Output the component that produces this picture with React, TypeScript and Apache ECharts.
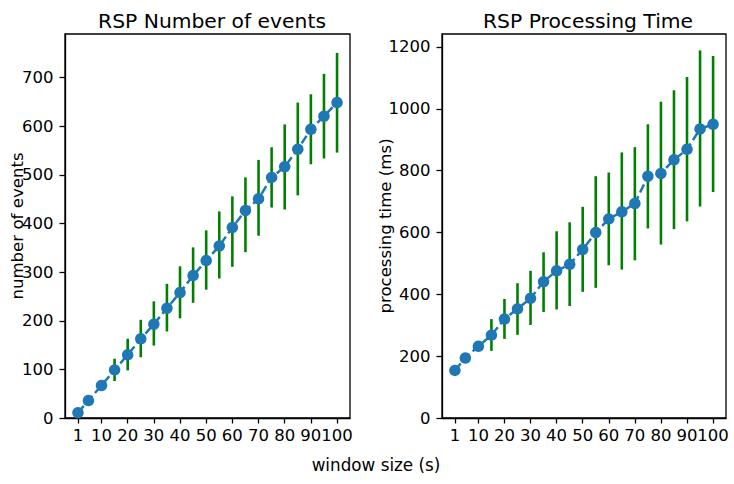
import React, { useEffect, useRef } from "react";
import * as echarts from "echarts";

const windowSizes = [1, 5, 10, 15, 20, 25, 30, 35, 40, 45, 50, 55, 60, 65, 70, 75, 80, 85, 90, 95, 100];
const xTickValues = [1, 10, 20, 30, 40, 50, 60, 70, 80, 90, 100];

const eventsMean = [11, 36, 67, 99, 130, 163, 193, 226, 258, 293, 324, 354, 392, 427, 451, 495, 517, 553, 594, 621, 649];
const eventsLow = [8, 33, 64, 76, 98, 125, 149, 178, 205, 237, 264, 287, 311, 341, 375, 433, 429, 458, 522, 534, 546];
const eventsHigh = [14, 39, 70, 122, 163, 202, 240, 276, 312, 351, 386, 425, 456, 495, 531, 557, 604, 649, 666, 708, 751];
const eventsTicks = [0, 100, 200, 300, 400, 500, 600, 700];

const timeMean = [154, 194, 232, 268, 320, 353, 387, 441, 476, 497, 545, 600, 644, 667, 694, 782, 791, 835, 869, 935, 950];
const timeLow = [150, 190, 228, 217, 256, 269, 301, 343, 351, 362, 408, 421, 494, 480, 510, 613, 561, 611, 636, 684, 731];
const timeHigh = [158, 198, 236, 320, 385, 436, 476, 536, 604, 633, 683, 782, 794, 859, 876, 950, 1023, 1060, 1103, 1189, 1171];
const timeTicks = [0, 200, 400, 600, 800, 1000, 1200];

const FONT = "DejaVu Sans";
const TICK_FS = 16.5;

function xAxisDef(gridIndex: number) {
  return {
    type: "value",
    gridIndex,
    min: -3.95,
    max: 104.95,
    splitLine: { show: false },
    axisLine: { show: true, onZero: false, lineStyle: { color: "#000", width: 1.3 } },
    axisTick: { show: true, customValues: xTickValues, length: 5.5, lineStyle: { color: "#000", width: 1.3 } },
    axisLabel: { customValues: xTickValues, color: "#000", fontSize: TICK_FS, fontFamily: FONT, margin: 9,
      interval: 0, hideOverlap: false, showMinLabel: true, showMaxLabel: true,
      formatter: (v: number) => String(v) },
  };
}

function yAxisDef(gridIndex: number, max: number, ticks: number[]) {
  return {
    type: "value",
    gridIndex,
    min: 0,
    max,
    splitLine: { show: false },
    axisLine: { show: true, onZero: false, lineStyle: { color: "#000", width: 1.3 } },
    axisTick: { show: true, customValues: ticks, length: 5.5, lineStyle: { color: "#000", width: 1.3 } },
    axisLabel: { customValues: ticks, color: "#000", fontSize: TICK_FS, fontFamily: FONT, margin: 11.5,
      hideOverlap: false, formatter: (v: number) => String(v) },
  };
}

function errorSeries(idx: number, low: number[], high: number[]) {
  const data = windowSizes.map((x, i) => [x, low[i], high[i]]);
  return {
    type: "custom",
    xAxisIndex: idx,
    yAxisIndex: idx,
    z: 1,
    data,
    renderItem: (params: any, api: any) => {
      const p1 = api.coord([api.value(0), api.value(1)]);
      const p2 = api.coord([api.value(0), api.value(2)]);
      return {
        type: "line",
        shape: { x1: p1[0], y1: p1[1], x2: p2[0], y2: p2[1] },
        style: { stroke: "#008000", lineWidth: 2.6 },
      };
    },
  };
}

function lineSeries(idx: number, vals: number[]) {
  return {
    type: "line",
    xAxisIndex: idx,
    yAxisIndex: idx,
    z: 3,
    data: windowSizes.map((x, i) => [x, vals[i]]),
    symbol: "circle",
    symbolSize: 11.5,
    itemStyle: { color: "#1f77b4" },
    lineStyle: { color: "#1f77b4", width: 2.5, type: [9, 4] },
  };
}

export default function App() {
  const ref = useRef<HTMLDivElement>(null);
  useEffect(() => {
    if (!ref.current) return;
    const chart = echarts.init(ref.current, null, { renderer: "svg" });
    chart.setOption({
      animation: false,
      backgroundColor: "#fff",
      title: [
        { text: "RSP Number of events", left: 207, top: 6, textAlign: "center",
          textStyle: { fontFamily: FONT, fontSize: 20.3, fontWeight: "normal", color: "#000" } },
        { text: "RSP Processing Time", left: 583, top: 6, textAlign: "center",
          textStyle: { fontFamily: FONT, fontSize: 20.3, fontWeight: "normal", color: "#000" } },
      ],
      grid: [
        { left: 65, right: 384, top: 34, bottom: 66, show: true, borderColor: "#000", borderWidth: 1.3, containLabel: false },
        { left: 442, right: 8, top: 34, bottom: 66, show: true, borderColor: "#000", borderWidth: 1.3, containLabel: false },
      ],
      xAxis: [xAxisDef(0), xAxisDef(1)],
      yAxis: [yAxisDef(0, 790, eventsTicks), yAxisDef(1, 1242, timeTicks)],
      series: [
        errorSeries(0, eventsLow, eventsHigh),
        lineSeries(0, eventsMean),
        errorSeries(1, timeLow, timeHigh),
        lineSeries(1, timeMean),
      ],
      graphic: [
        { type: "text", x: 17, y: 226, rotation: Math.PI / 2,
          style: { text: "number of events", fontFamily: FONT, fontSize: 16.6, fill: "#000", align: "center", verticalAlign: "middle" } },
        { type: "text", x: 385, y: 226, rotation: Math.PI / 2,
          style: { text: "processing time (ms)", fontFamily: FONT, fontSize: 16.6, fill: "#000", align: "center", verticalAlign: "middle" } },
        { type: "text", x: 376, y: 465,
          style: { text: "window size (s)", fontFamily: FONT, fontSize: 16.8, fill: "#000", align: "center", verticalAlign: "middle" } },
      ],
    });
    return () => chart.dispose();
  }, []);
  return <div ref={ref} style={{ width: 734, height: 484, position: "absolute", left: 0, top: 0 }} />;
}
